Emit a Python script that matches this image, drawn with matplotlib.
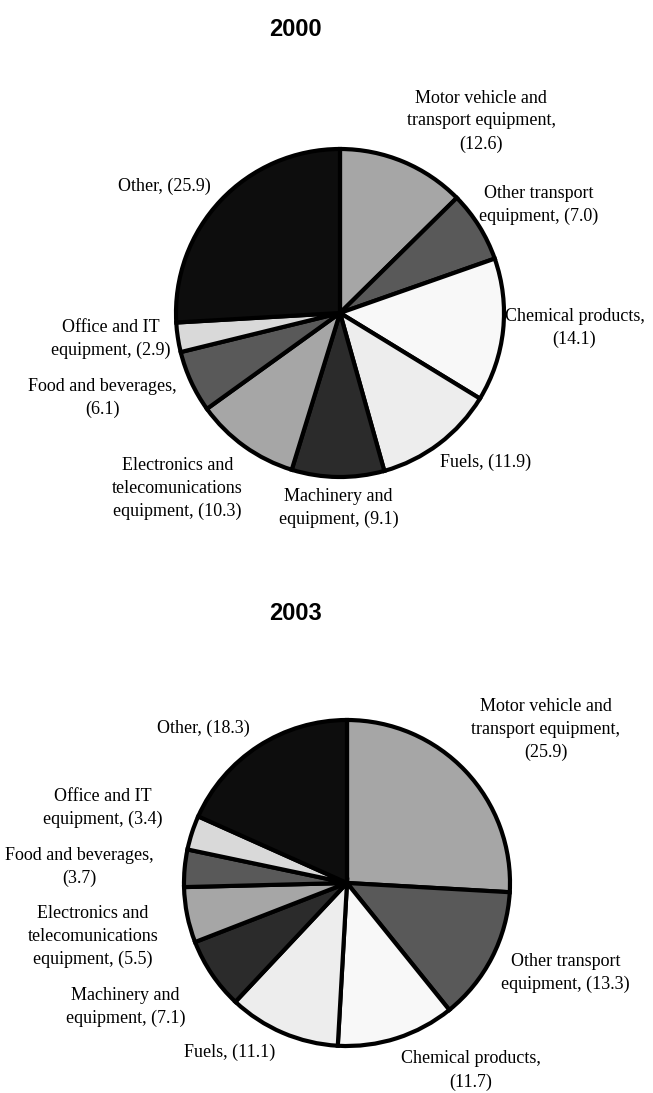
import matplotlib
matplotlib.use("Agg")
import matplotlib.pyplot as plt

# data: export shares by product group (%)
categories = ["Motor vehicle and\ntransport equipment,", "Other transport\nequipment,",
              "Chemical products,", "Fuels,", "Machinery and\nequipment,",
              "Electronics and\ntelecomunications\nequipment,", "Food and beverages,",
              "Office and IT\nequipment,", "Other,"]
share_2000 = [12.6, 7.0, 14.1, 11.9, 9.1, 10.3, 6.1, 2.9, 25.9]
share_2003 = [25.9, 13.3, 11.7, 11.1, 7.1, 5.5, 3.7, 3.4, 18.3]
greys = ["#a6a6a6", "#595959", "#f8f8f8", "#ededed", "#2b2b2b",
         "#a6a6a6", "#595959", "#d9d9d9", "#0d0d0d"]

# how each label is written (where the value goes: same line or new line)
fmt_2000 = ["{}\n({})", "{} ({})", "{}\n({})", "{} ({})", "{} ({})",
            "{} ({})", "{}\n({})", "{} ({})", "{} ({})"]
fmt_2003 = ["{}\n({})", "{} ({})", "{}\n({})", "{} ({})", "{} ({})",
            "{} ({})", "{}\n({})", "{} ({})", "{} ({})"]

# label anchors in pie-radius units (layout only)
pos_2000 = [(0.86, 1.17), (1.21, 0.66), (1.43, -0.09), (0.89, -0.91), (-0.01, -1.19),
            (-0.99, -1.07), (-1.45, -0.52), (-1.40, -0.16), (-1.07, 0.77)]
pos_2003 = [(1.22, 0.94), (1.34, -0.55), (0.76, -1.15), (-0.72, -1.04), (-1.36, -0.76),
            (-1.56, -0.33), (-1.64, 0.10), (-1.50, 0.46), (-0.88, 0.95)]

W, H = 653, 1093
fig = plt.figure(figsize=(W / 100, H / 100), dpi=100)
fig.patch.set_facecolor("white")


def draw_pie(cx, cy, r, values, fmts, positions):
    ax = fig.add_axes([(cx - r) / W, (H - cy - r) / H, 2 * r / W, 2 * r / H])
    wedges, _ = ax.pie(values, colors=greys, startangle=90, counterclock=False,
                       wedgeprops=dict(edgecolor="black", linewidth=3))
    for w in wedges:
        w.set_clip_on(False)
    ax.set_xlim(-1, 1)
    ax.set_ylim(-1, 1)
    ax.axis("off")
    for name, v, f, (x, y) in zip(categories, values, fmts, positions):
        # the value is put after the last line of the category
        txt = f.format(name, "%.1f" % v)
        ax.text(x, y, txt, ha="center", va="center", family="Liberation Serif",
                fontsize=13, linespacing=1.45, clip_on=False)
    return ax


draw_pie(340, 313, 164, share_2000, fmt_2000, pos_2000)
draw_pie(347, 883, 163, share_2003, fmt_2003, pos_2003)

fig.text(295 / W, 1 - 30 / H, "2000", ha="center", va="center",
         family="Liberation Sans", fontweight="bold", fontsize=17)
fig.text(295 / W, 1 - 613 / H, "2003", ha="center", va="center",
         family="Liberation Sans", fontweight="bold", fontsize=17)

fig.savefig("out.png", dpi=100, facecolor="white")
